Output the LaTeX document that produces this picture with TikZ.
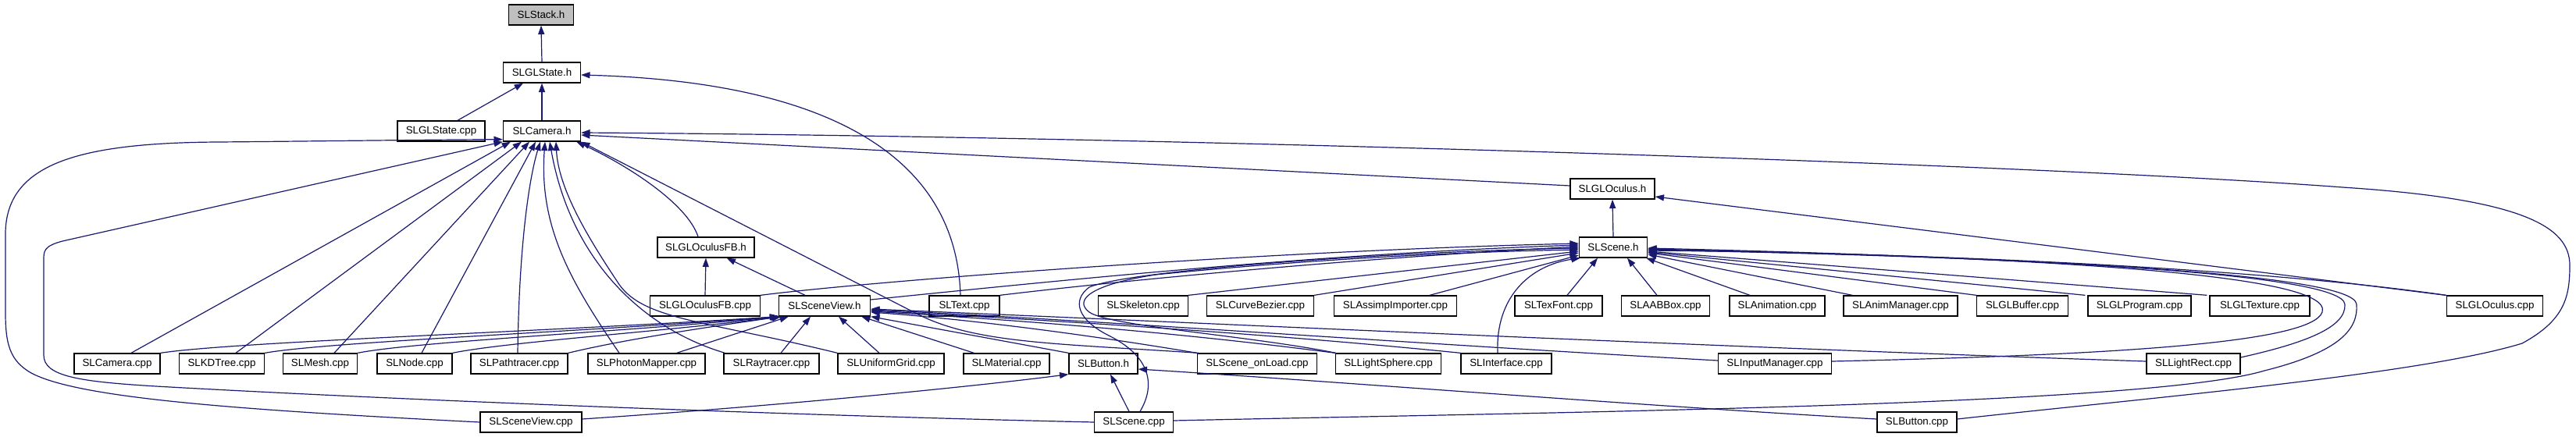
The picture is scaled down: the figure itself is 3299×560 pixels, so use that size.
\documentclass[tikz,border=0pt]{standalone}
\usepackage{fontspec}
\setmainfont{Liberation Sans}
\usetikzlibrary{arrows.meta,calc}
\definecolor{edgeblue}{HTML}{191970}
\definecolor{stackgrey}{HTML}{BFBFBF}
\begin{document}
\begin{tikzpicture}[x=0.75pt,y=-0.75pt,
  filebox/.style={draw=black, line width=1pt, fill=white, minimum height=19.5pt, inner sep=0pt, font=\fontsize{10}{12}\selectfont},
  bw/.style={minimum width={#1*0.75pt}},
  incl/.style={draw=edgeblue, line width=0.9pt, -{Triangle[length=8.5pt,width=6pt]}}]
\fill[white] (0,0) rectangle (3299,560);
\useasboundingbox (0,0) rectangle (3299,560);
% ---- nodes ----
\node[filebox, fill=stackgrey, bw=83] (stack) at (693,19) {SLStack.h};
\node[filebox, bw=99] (glsh) at (694,93) {SLGLState.h};
\node[filebox, bw=112] (glscpp) at (565,168) {SLGLState.cpp};
\node[filebox, bw=99] (camh) at (694,168) {SLCamera.h};
\node[filebox, bw=108] (oculush) at (2065,242) {SLGLOculus.h};
\node[filebox, bw=124] (ofbh) at (904,317) {SLGLOculusFB.h};
\node[filebox, bw=87] (sceneh) at (2066,317) {SLScene.h};
% row 6
\node[filebox, bw=141] (ofbcpp) at (903,392) {SLGLOculusFB.cpp};
\node[filebox, bw=117] (svh) at (1056,392) {SLSceneView.h};
\node[filebox, bw=90] (textcpp) at (1235,392) {SLText.cpp};
\node[filebox, bw=115] (skel) at (1464,392) {SLSkeleton.cpp};
\node[filebox, bw=137] (curve) at (1614,392) {SLCurveBezier.cpp};
\node[filebox, bw=157] (assimp) at (1787,392) {SLAssimpImporter.cpp};
\node[filebox, bw=112] (texfont) at (1996,392) {SLTexFont.cpp};
\node[filebox, bw=113] (aabb) at (2133,392) {SLAABBox.cpp};
\node[filebox, bw=122] (anim) at (2276,392) {SLAnimation.cpp};
\node[filebox, bw=146] (animmgr) at (2434,392) {SLAnimManager.cpp};
\node[filebox, bw=117] (glbuf) at (2590,392) {SLGLBuffer.cpp};
\node[filebox, bw=132] (glprog) at (2740,392) {SLGLProgram.cpp};
\node[filebox, bw=128] (gltex) at (2894,392) {SLGLTexture.cpp};
\node[filebox, bw=123] (oculuscpp) at (3195,392) {SLGLOculus.cpp};
% row 7
\node[filebox, bw=110] (camcpp) at (150,466) {SLCamera.cpp};
\node[filebox, bw=109] (kdtree) at (284,466) {SLKDTree.cpp};
\node[filebox, bw=95] (mesh) at (410,466) {SLMesh.cpp};
\node[filebox, bw=96] (nodecpp) at (531,466) {SLNode.cpp};
\node[filebox, bw=124] (path) at (665,466) {SLPathtracer.cpp};
\node[filebox, bw=150] (photon) at (828,466) {SLPhotonMapper.cpp};
\node[filebox, bw=122] (ray) at (988,466) {SLRaytracer.cpp};
\node[filebox, bw=136] (grid) at (1141,466) {SLUniformGrid.cpp};
\node[filebox, bw=110] (mat) at (1289,466) {SLMaterial.cpp};
\node[filebox, bw=88] (buth) at (1413,466) {SLButton.h};
\node[filebox, bw=153] (onload) at (1610,466) {SLScene\_onLoad.cpp};
\node[filebox, bw=135] (lsphere) at (1778,466) {SLLightSphere.cpp};
\node[filebox, bw=116] (iface) at (1929,466) {SLInterface.cpp};
\node[filebox, bw=145] (input) at (2273,466) {SLInputManager.cpp};
\node[filebox, bw=120] (lrect) at (2809,466) {SLLightRect.cpp};
% row 8
\node[filebox, bw=130] (svcpp) at (680,541) {SLSceneView.cpp};
\node[filebox, bw=101] (scenecpp) at (1452,541) {SLScene.cpp};
\node[filebox, bw=102] (butcpp) at (2455,541) {SLButton.cpp};
% ---- edges: includer -> included ----
\draw[incl] (glsh.north) -- (stack.south);
\draw[incl] ($(glscpp.north)+(21,0)$) -- ($(glsh.south)+(-24,0)$);
\draw[incl] (camh.north) -- (glsh.south);
\draw[incl] ($(textcpp.north)+(-5,0)$) .. controls (1225,200) and (1060,105) .. ($(glsh.east)+(0,3)$);
% to SLCamera.h
\draw[incl] ($(camcpp.north)+(18,0)$) -- ($(camh.south)+(-40,0)$);
\draw[incl] ($(kdtree.north)+(18,0)$) -- ($(camh.south)+(-26,0)$);
\draw[incl] ($(mesh.north)+(18,0)$) -- ($(camh.south)+(-16,0)$);
\draw[incl] ($(nodecpp.north)+(9,0)$) -- ($(camh.south)+(-8,0)$);
\draw[incl] ($(path.north)+(-2,0)$) .. controls (665,300) and (680,220) .. ($(camh.south)+(-2,0)$);
\draw[incl] ($(photon.north)+(-35,0)$) .. controls (730,360) and (690,290) .. ($(camh.south)+(4,0)$);
\draw[incl] ($(ray.north west)+(2,0)$) .. controls (820,420) and (730,330) .. ($(camh.south)+(10,0)$);
\draw[incl] (grid.north west) .. controls (900,410) and (820,410) .. (790,360) .. controls (750,300) and (715,240) .. ($(camh.south)+(18,0)$);
\draw[incl] ($(ofbh.north)+(-10,0)$) .. controls (880,260) and (800,210) .. ($(camh.south east)+(-6,0)$);
\draw[incl] ($(onload.north west)+(2,0)$) .. controls (1350,440) and (1250,440) .. (1176,403) -- (camh.south east);
\draw[incl] (svcpp.west) .. controls (300,525) and (100,510) .. (40,478) .. controls (12,462) and (7,440) .. (7,400) -- (7,300) .. controls (7,210) and (100,183) .. (280,182) .. controls (400,181) and (550,179) .. ($(camh.south west)+(0,-3)$);
\draw[incl] (scenecpp.west) .. controls (1000,532) and (500,512) .. (200,495) .. controls (100,489) and (56,482) .. (56,455) -- (56,330) .. controls (56,318) and (62,314) .. (80,309) -- (camh.south west);
\draw[incl] ($(oculush.west)+(0,-4)$) -- ($(camh.east)+(0,5)$);
\draw[incl] ($(butcpp.east)+(0,-4)$) .. controls (2750,510) and (3100,480) .. (3230,440) .. controls (3285,410) and (3291,380) .. (3291,340) .. controls (3291,290) and (3230,255) .. (3000,240) .. controls (2600,210) and (1500,175) .. ($(camh.east)+(0,2)$);
% to SLGLOculusFB.h
\draw[incl] (ofbcpp.north) -- (ofbh.south);
\draw[incl] ($(svh.north)+(-25,0)$) -- ($(ofbh.south east)+(-36,0)$);
% to SLGLOculus.h
\draw[incl] (sceneh.north) -- (oculush.south);
\draw[incl] ($(oculuscpp.north west)+(-1,0)$) -- ($(oculush.east)+(0,10)$);
% to SLScene.h, right side
\draw[incl] (oculuscpp.north west) .. controls (2900,345) and (2500,325) .. ($(sceneh.east)+(0,4)$);
\draw[incl] ($(input.east)+(0,-3)$) .. controls (2700,455) and (2960,440) .. (2974,400) .. controls (2990,350) and (2600,330) .. ($(sceneh.east)+(0,1)$);
\draw[incl] ($(lrect.east)+(0,-8)$) .. controls (2950,440) and (3005,420) .. (3003,390) .. controls (3000,350) and (2600,330) .. ($(sceneh.east)+(0,2)$);
\draw[incl] ($(scenecpp.east)+(0,-2)$) .. controls (2000,528) and (2750,520) .. (2900,475) .. controls (3000,450) and (3020,420) .. (3018,390) .. controls (3015,350) and (2600,330) .. ($(sceneh.east)+(0,3)$);
\draw[incl] ($(gltex.north west)+(-3,0)$) -- ($(sceneh.east)+(0,5)$);
\draw[incl] ($(glprog.north west)+(-3,0)$) -- ($(sceneh.east)+(0,6)$);
\draw[incl] (glbuf.north west) -- ($(sceneh.east)+(0,7)$);
\draw[incl] ($(animmgr.north west)+(12,0)$) -- ($(sceneh.east)+(0,9)$);
\draw[incl] ($(anim.north)+(-35,0)$) -- ($(sceneh.south east)+(-2,0)$);
\draw[incl] ($(aabb.north)+(-11,0)$) -- ($(sceneh.south)+(18,0)$);
% to SLScene.h, left side
\draw[incl] ($(texfont.north)+(11,0)$) -- ($(sceneh.south)+(-20,0)$);
\draw[incl] ($(iface.north)+(-11,0)$) .. controls (1915,380) and (1960,340) .. ($(sceneh.south west)+(2,0)$);
\draw[incl] ($(assimp.north)+(44,0)$) -- ($(sceneh.west)+(0,10)$);
\draw[incl] (curve.north east) -- ($(sceneh.west)+(0,7)$);
\draw[incl] (skel.north east) -- ($(sceneh.west)+(0,5)$);
\draw[incl] ($(lsphere.north west)+(1,0)$) .. controls (1600,430) and (1420,418) .. (1395,400) .. controls (1375,385) and (1395,365) .. (1480,352) .. controls (1700,330) and (1900,322) .. ($(sceneh.west)+(0,3)$);
\draw[incl] ($(scenecpp.north)+(8,0)$) .. controls (1482,490) and (1470,455) .. (1420,430) .. controls (1380,410) and (1372,385) .. (1395,368) .. controls (1450,345) and (1800,322) .. ($(sceneh.west)+(0,1)$);
\draw[incl] (textcpp.north east) .. controls (1450,358) and (1750,330) .. ($(sceneh.west)+(0,-1)$);
\draw[incl] ($(svh.east)+(0,-8)$) .. controls (1400,355) and (1700,325) .. ($(sceneh.west)+(0,-3)$);
\draw[incl] (ofbcpp.north east) .. controls (1100,362) and (1600,322) .. ($(sceneh.west)+(0,-5)$);
% to SLSceneView.h, right side
\draw[incl] (onload.north west) .. controls (1400,430) and (1250,410) .. ($(svh.east)+(0,8)$);
\draw[incl] (lsphere.north west) .. controls (1500,425) and (1300,410) .. ($(svh.east)+(0,7)$);
\draw[incl] (iface.north west) .. controls (1600,425) and (1300,408) .. ($(svh.east)+(0,6)$);
\draw[incl] ($(input.west)+(0,-4)$) .. controls (1800,440) and (1400,410) .. ($(svh.east)+(0,5)$);
\draw[incl] ($(lrect.west)+(0,-3)$) .. controls (2200,445) and (1500,412) .. ($(svh.east)+(0,4)$);
% to SLSceneView.h, bottom
\draw[incl] (camcpp.north east) .. controls (300,438) and (700,425) .. (svh.south west);
\draw[incl] (kdtree.north east) .. controls (420,438) and (750,425) .. ($(svh.south west)+(1,0)$);
\draw[incl] (mesh.north east) .. controls (530,438) and (800,425) .. ($(svh.south west)+(2,0)$);
\draw[incl] (nodecpp.north east) .. controls (650,438) and (850,425) .. ($(svh.south west)+(3,0)$);
\draw[incl] (path.north east) .. controls (800,435) and (900,420) .. ($(svh.south west)+(4,0)$);
\draw[incl] ($(photon.north east)+(-37,0)$) -- ($(svh.south west)+(13,0)$);
\draw[incl] ($(ray.north)+(12,0)$) -- ($(svh.south)+(-18,0)$);
\draw[incl] ($(grid.north)+(-15,0)$) -- ($(svh.south)+(18,0)$);
\draw[incl] ($(mat.north west)+(14,0)$) -- ($(svh.south east)+(-12,0)$);
\draw[incl] (buth.north west) -- (svh.south east);
% to SLButton.h
\draw[incl] ($(scenecpp.north)+(-6,0)$) -- ($(buth.south)+(9,0)$);
\draw[incl] ($(svcpp.east)+(0,-4)$) .. controls (1000,520) and (1250,495) .. (buth.south west);
\draw[incl] ($(butcpp.west)+(0,-4)$) .. controls (2100,520) and (1700,488) .. ($(buth.east)+(0,7)$);
\end{tikzpicture}
\end{document}
